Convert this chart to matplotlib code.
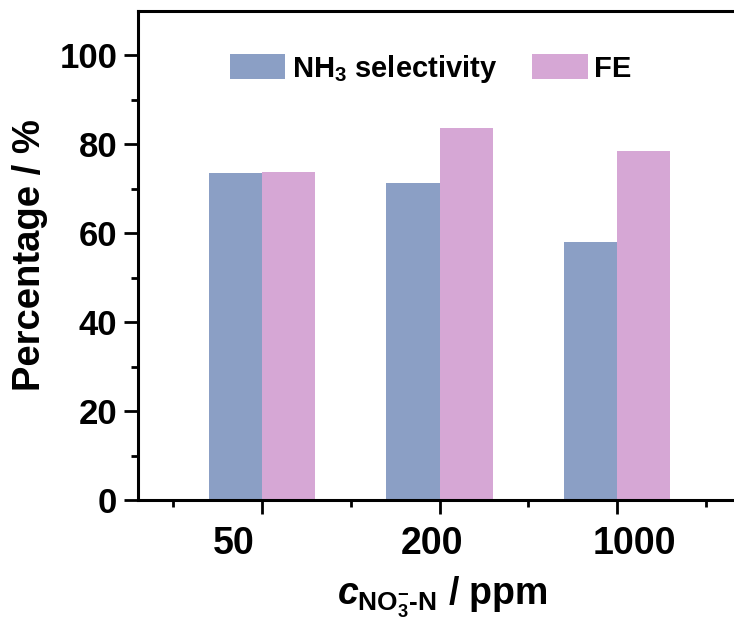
import numpy as np
import matplotlib
matplotlib.use("Agg")
import matplotlib.pyplot as plt
import matplotlib.transforms as mtransforms

plt.rcParams['font.family'] = ['Liberation Sans', 'DejaVu Sans']
plt.rcParams['font.weight'] = 'bold'
plt.rcParams['mathtext.fontset'] = 'custom'
plt.rcParams['mathtext.rm'] = 'Liberation Sans:bold'
plt.rcParams['mathtext.bf'] = 'Liberation Sans:bold'
plt.rcParams['mathtext.it'] = 'Liberation Sans:italic:bold'

# data
concentrations = ['50', '200', '1000']
nh3_selectivity = [73.6, 71.2, 58.0]
faradaic_eff = [73.8, 83.7, 78.5]
label_shift = [-0.16, -0.04, 0.10]   # tick labels sit a bit off their ticks in the original

blue = '#8B9FC5'
pink = '#D6A7D5'

fig = plt.figure(figsize=(7.34, 6.23), dpi=100)
ax = fig.add_axes([138/734, 123/623, 596/734, 489/623])

x = np.arange(1, len(concentrations) + 1)
w = 0.3
ax.bar(x - w/2, nh3_selectivity, w, color=blue, label='NH$_3$ selectivity')
ax.bar(x + w/2, faradaic_eff, w, color=pink, label='FE')

ax.set_xlim(0.30, 3.66)
ax.set_ylim(0, 110)

ax.set_xticks(x)
ax.set_xticklabels([])
ax.set_xticks(np.arange(0.5, 4.0, 1.0), minor=True)
ax.set_yticks(np.arange(0, 101, 20))
ax.set_yticks(np.arange(10, 101, 20), minor=True)

ax.tick_params(axis='both', which='major', direction='out', length=10, width=2, labelsize=25, pad=5)
ax.tick_params(axis='both', which='minor', direction='out', length=5, width=2)
for lab in ax.get_yticklabels():
    lab.set_fontweight('bold')

trans = mtransforms.blended_transform_factory(ax.transData, ax.transAxes)
for xi, s, lab in zip(x, label_shift, concentrations):
    ax.text(xi + s, -0.089, lab, transform=trans, ha='center', va='center',
            fontsize=27, fontweight='bold')

for side in ['left', 'bottom', 'top']:
    ax.spines[side].set_linewidth(2.2)
ax.spines['right'].set_visible(False)

ax.set_ylabel('Percentage / %', fontsize=27.5, fontweight='bold')
ax.yaxis.set_label_coords(-0.151, 0.5)
ax.set_xlabel(r'$c_{\mathrm{NO_3^{-}\text{-}N}}$ / ppm', fontsize=27, fontweight='bold')
ax.xaxis.set_label_coords(0.51, -0.152)

ax.legend(loc='center left', bbox_to_anchor=(0.154, 0.882), ncol=2, frameon=False,
          fontsize=21, handlelength=1.9, handleheight=0.97, handletextpad=0.22,
          columnspacing=1.22, borderpad=0, borderaxespad=0)

fig.savefig('out.png', dpi=100)
